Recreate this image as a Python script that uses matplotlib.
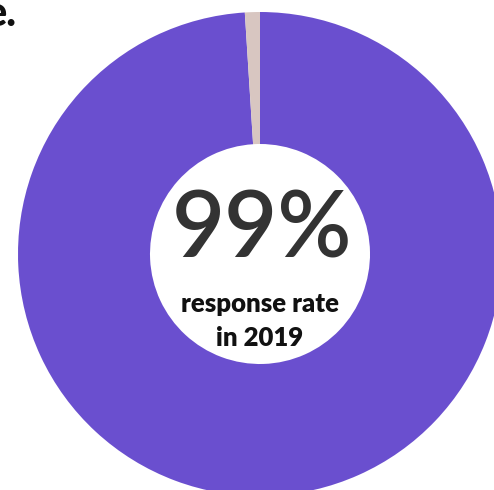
import matplotlib
matplotlib.use("Agg")
import matplotlib.pyplot as plt

labels = ["Responded", "Did not respond"]
values = [99, 1]
colors = ["#6a4fcf", "#d8c6c1"]
big_label = "99%"
sub_label = "response rate\nin 2019"

W, H = 494, 490
fig = plt.figure(figsize=(W / 100, H / 100), dpi=100)
ax = fig.add_axes([0, 0, 1, 1])
ax.set_xlim(0, W)
ax.set_ylim(0, H)
ax.set_aspect("equal")
ax.axis("off")

cx, cy = 260, H - 254
R, r_in = 242, 110
ax.pie(values, colors=colors, startangle=90, counterclock=False,
       radius=R, center=(cx, cy),
       wedgeprops=dict(width=R - r_in, linewidth=0))
ax.set_xlim(0, W)
ax.set_ylim(0, H)

ax.text(cx + 2, H - 257, big_label, ha="center", va="baseline",
        fontsize=66, fontweight="semibold", color="#333333", family="Lato")
ax.text(cx, H - 312, sub_label.split("\n")[0], ha="center", va="baseline",
        fontsize=18.5, fontweight="heavy", color="#111111", family="Lato")
ax.text(cx, H - 346, sub_label.split("\n")[1], ha="center", va="baseline",
        fontsize=18.5, fontweight="heavy", color="#111111", family="Lato")

ax.text(17, H - 26, "e.", ha="right", va="baseline", fontsize=30,
        fontweight="black", color="#111111", family="Lato")

fig.savefig("out.png", dpi=100)
